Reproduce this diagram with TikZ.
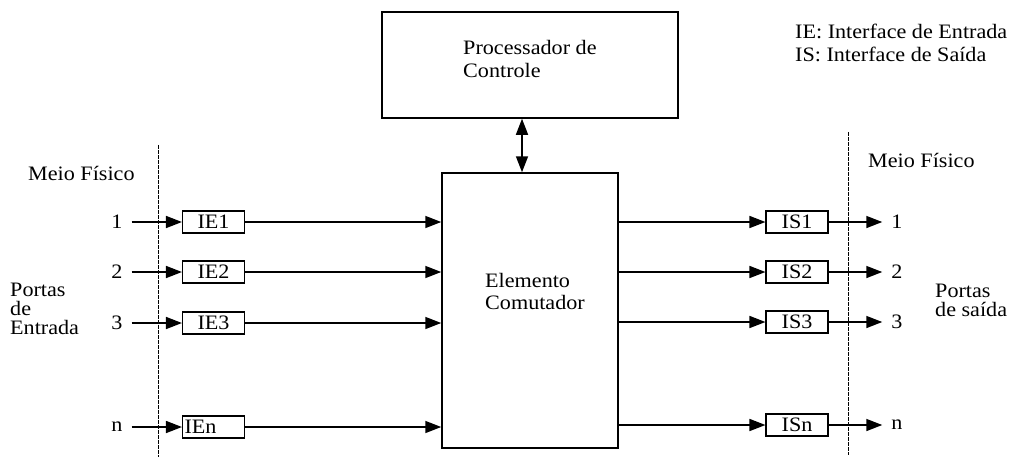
\documentclass[tikz,border=0pt]{standalone}
\usepackage{fontspec}
\setmainfont[FakeStretch=1.08]{Liberation Serif}
\usetikzlibrary{arrows.meta}

\tikzset{
  every node/.style={font=\fontsize{20.5}{22.5}\selectfont},
  blockbox/.style={draw, line width=1.5pt, inner sep=0pt},
  iface/.style={draw, line width=1.1pt, minimum width=62pt, minimum height=22pt, inner sep=2pt},
  ifaceleft/.style={iface, text width=58pt, align=left},
  portnum/.style={inner xsep=9pt, inner ysep=2pt},
  plain/.style={anchor=west, align=left, inner sep=0pt},
  arr/.style={line width=1.6pt, -{Triangle[length=16pt, width=12pt]}},
  dblarr/.style={line width=1.6pt, {Triangle[length=16pt, width=12pt]}-{Triangle[length=16pt, width=12pt]}},
  divider/.style={line width=1pt, dash pattern=on 4pt off 1pt}
}

\begin{document}
\begin{tikzpicture}[x=1pt, y=-1pt]
  \useasboundingbox (0,0) rectangle (1010,459);

  % control processor and switching element
  \node[blockbox, minimum width=296pt, minimum height=106pt] (proc) at (530,65) {};
  \node[plain] (proclabel) at (463,59) {Processador de\\Controle};
  \node[blockbox, minimum width=176pt, minimum height=275pt] (elem) at (530,310.5) {};
  \node[plain] (elemlabel) at (485,291.5) {Elemento\\Comutador};

  % bidirectional link between them
  \coordinate (bus) at (522,0);
  \draw[dblarr] (proc.south -| bus) -- (elem.north -| bus);

  % physical medium boundaries
  \coordinate (lefttop) at (158,145);
  \coordinate (leftbot) at (158,457);
  \coordinate (righttop) at (848,132);
  \coordinate (rightbot) at (848,455);
  \draw[divider] (lefttop) -- (leftbot);
  \draw[divider] (righttop) -- (rightbot);

  % side captions
  \node[plain] (meioL) at (28,173) {Meio Físico};
  \node[plain] (meioR) at (868,160) {Meio Físico};
  \node[plain, font=\fontsize{20.5}{19}\selectfont] (portasE) at (10,309) {Portas\\de\\Entrada};
  \node[plain, font=\fontsize{20.5}{19}\selectfont] (portasS) at (935,300) {Portas\\de saída};

  % legend
  \node[plain] (legend) at (795,43) {IE: Interface de Entrada\\IS: Interface de Saída};

  % input and output ports
  \foreach \i/\yi/\yo in {1/222/222, 2/272/272, 3/323/322} {
    \node[portnum] (inum\i) at (117,\yi) {\i};
    \node[iface] (ie\i) at (213.5,\yi) {IE\i};
    \draw[arr] (inum\i) -- (ie\i);
    \draw[arr] (ie\i) -- (ie\i -| elem.west);
    \node[iface] (is\i) at (797,\yo) {IS\i};
    \node[portnum] (onum\i) at (897,\yo) {\i};
    \draw[arr] (is\i -| elem.east) -- (is\i);
    \draw[arr] (is\i) -- (onum\i);
  }
  \node[portnum] (inumn) at (117,427) {n};
  \node[ifaceleft] (ien) at (213.5,427) {IEn};
  \draw[arr] (inumn) -- (ien);
  \draw[arr] (ien) -- (ien -| elem.west);
  \node[iface] (isn) at (797,425) {ISn};
  \node[portnum] (onumn) at (897,425) {n};
  \draw[arr] (isn -| elem.east) -- (isn);
  \draw[arr] (isn) -- (onumn);
\end{tikzpicture}
\end{document}
